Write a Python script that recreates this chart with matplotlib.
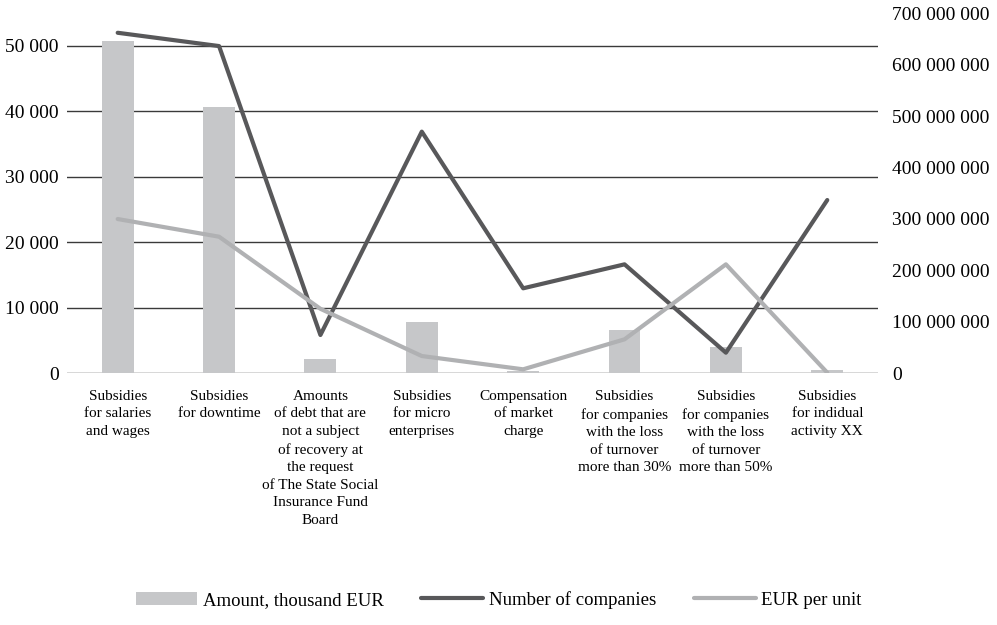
import matplotlib
matplotlib.use("Agg")
import matplotlib.pyplot as plt
import numpy as np
from matplotlib.ticker import FuncFormatter

plt.rcParams['font.family'] = ['Liberation Serif', 'DejaVu Serif']

categories = [
    "Subsidies\nfor salaries\nand wages",
    "Subsidies\nfor downtime",
    "Amounts\nof debt that are\nnot a subject\nof recovery at\nthe request\nof The State Social\nInsurance Fund\nBoard",
    "Subsidies\nfor micro\nenterprises",
    "Compensation\nof market\ncharge",
    "Subsidies\nfor companies\nwith the loss\nof turnover\nmore than 30%",
    "Subsidies\nfor companies\nwith the loss\nof turnover\nmore than 50%",
    "Subsidies\nfor indidual\nactivity XX",
]
amount = [50730, 40700, 2180, 7790, 350, 6610, 4060, 500]
companies = [52000, 49970, 5850, 36900, 12980, 16640, 3150, 26460]
eur_per_unit = [23560, 20860, 9850, 2640, 610, 5190, 16640, 100]
left_ticks = [0, 10000, 20000, 30000, 40000, 50000]
right_ticks = [0, 100e6, 200e6, 300e6, 400e6, 500e6, 600e6, 700e6]

bar_color = "#c6c7c9"
dark = "#58585a"
light = "#b0b1b3"

fig = plt.figure(figsize=(9.97, 6.25), dpi=100)
ax = fig.add_axes([0.0672, 0.4027, 0.8134, 0.5763])
x = np.arange(len(categories))

ax.set_axisbelow(True)
ax.yaxis.grid(True, color="#3a3a3a", linewidth=1.0)
ax.bar(x, amount, width=0.315, color=bar_color, zorder=2, label="Amount, thousand EUR")
ax.plot(x, companies, color=dark, linewidth=3.0, zorder=3, label="Number of companies", solid_capstyle="round")
ax.plot(x, eur_per_unit, color=light, linewidth=3.0, zorder=3, label="EUR per unit", solid_capstyle="round")

ax.set_xlim(-0.5, len(categories) - 0.5)
ax.set_ylim(0, 55000)
ax.set_yticks(left_ticks)
fmt = FuncFormatter(lambda v, p: f"{v:,.0f}".replace(",", " "))
ax.yaxis.set_major_formatter(fmt)
ax.set_xticks(x)
ax.set_xticklabels(categories, fontsize=11, linespacing=1.45, va="top", ha="center")
ax.tick_params(axis="x", length=0, pad=12)
ax.tick_params(axis="y", length=0, pad=6, labelsize=14)
for s in ax.spines.values():
    s.set_visible(False)

ax2 = ax.twinx()
ax2.set_ylim(0, 700e6)
ax2.set_yticks(right_ticks)
ax2.yaxis.set_major_formatter(fmt)
ax2.tick_params(axis="y", length=0, pad=10, labelsize=14)
for s in ax2.spines.values():
    s.set_visible(False)

handles, labels = ax.get_legend_handles_labels()
order = [2, 0, 1]
fig.legend([handles[i] for i in order], [labels[i] for i in order],
           loc="center", bbox_to_anchor=(0.5, 0.04), ncol=3, frameon=False,
           fontsize=13.5, handlelength=3.3, handletextpad=0.3, columnspacing=2.0)

fig.savefig("out.png", dpi=100)
